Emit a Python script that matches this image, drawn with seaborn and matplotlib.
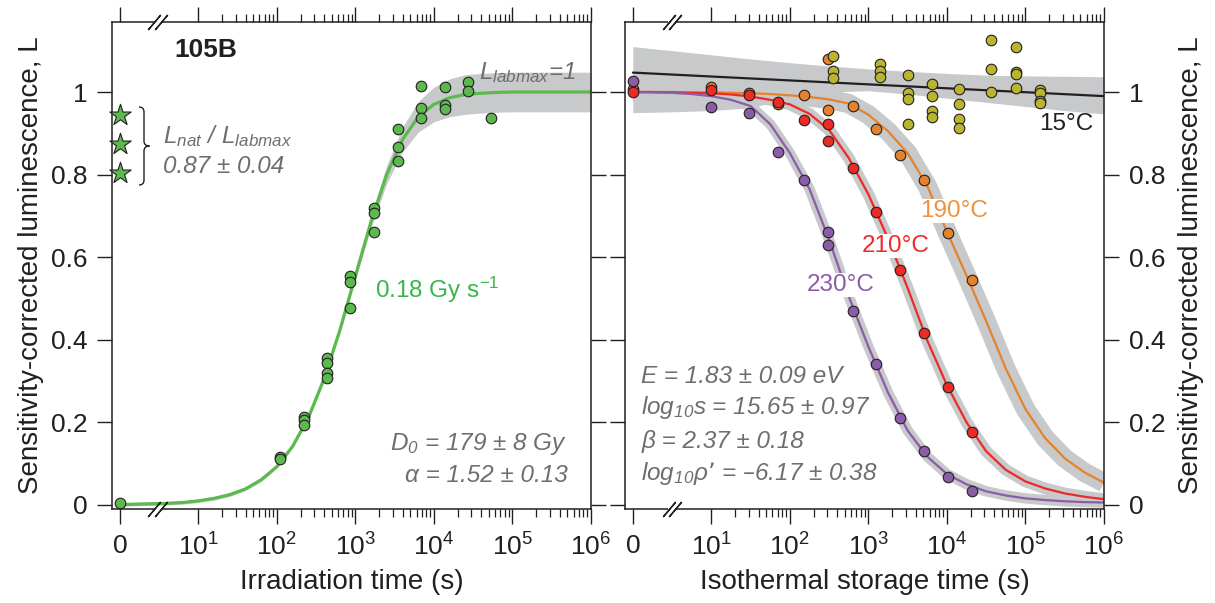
import numpy as np
import matplotlib
matplotlib.use("Agg")
import matplotlib.pyplot as plt
import seaborn as sns
from matplotlib.path import Path
from matplotlib.patches import PathPatch
from matplotlib.ticker import FixedLocator, NullFormatter

# ---------------- data: left panel (irradiation) ----------------
irr_time = [0, 110, 110, 220, 220, 220, 430, 430, 430, 430, 860, 860, 860,
            1720, 1720, 1720, 3450, 3450, 3450, 6900, 6900, 6900,
            13800, 13800, 13800, 27000, 27000, 54000]
irr_L = [0.004, 0.115, 0.111, 0.214, 0.206, 0.193, 0.357, 0.344, 0.319, 0.307,
         0.554, 0.541, 0.476, 0.718, 0.706, 0.661, 0.911, 0.866, 0.832,
         1.015, 0.962, 0.936, 1.012, 0.968, 0.958, 1.024, 1.002, 0.938]
nat_time = [0, 0, 0]
nat_L = [0.944, 0.874, 0.804]

grow_logt = [0.0, 0.2, 0.4, 0.6, 0.8, 1.0, 1.2, 1.4, 1.6, 1.8, 2.0, 2.2, 2.4, 2.6,
             2.8, 3.0, 3.2, 3.4, 3.6, 3.8, 4.0, 4.2, 4.4, 4.6, 4.8, 5.0, 5.2,
             5.4, 5.6, 5.8, 6.0]
grow_L = [0.001, 0.002, 0.003, 0.004, 0.006, 0.010, 0.016, 0.025, 0.039, 0.061,
          0.093, 0.142, 0.211, 0.305, 0.422, 0.555, 0.687, 0.801, 0.885, 0.940,
          0.970, 0.986, 0.994, 0.997, 0.999, 1.000, 1.000, 1.000, 1.000, 1.000,
          1.000]
grow_halfwidth = [0.004, 0.004, 0.004, 0.004, 0.004, 0.004, 0.004, 0.004, 0.004,
                  0.004, 0.004, 0.004, 0.004, 0.004, 0.006, 0.010, 0.015, 0.022,
                  0.030, 0.037, 0.042, 0.046, 0.048, 0.048, 0.048, 0.048, 0.048,
                  0.048, 0.048, 0.048, 0.048]

# ---------------- data: right panel (isothermal storage) ----------------
p230_time = [0, 10, 30, 70, 150, 310, 310, 630, 1260, 2540, 5100, 10200, 20600]
p230_L = [1.026, 0.964, 0.950, 0.854, 0.786, 0.660, 0.630, 0.470, 0.341, 0.210,
          0.130, 0.067, 0.033]
p210_time = [0, 10, 30, 70, 150, 310, 310, 630, 1260, 2540, 5100, 10200, 20600]
p210_L = [1.001, 1.006, 0.992, 0.977, 0.931, 0.923, 0.881, 0.816, 0.709, 0.569,
          0.416, 0.286, 0.177]
p190_time = [0, 10, 30, 70, 150, 310, 310, 630, 1260, 2540, 5100, 10200, 20600]
p190_L = [1.008, 1.013, 0.998, 0.970, 0.993, 0.956, 1.081, 0.965, 0.910, 0.847,
          0.787, 0.658, 0.545]
p15_time = [350, 350, 350, 1400, 1400, 1400, 3200, 3200, 3200, 3200,
            6400, 6400, 6400, 6400, 14400, 14400, 14400, 14400,
            36000, 36000, 36000, 75000, 75000, 75000, 75000,
            155000, 155000, 155000, 155000]
p15_L = [1.087, 1.051, 1.035, 1.069, 1.052, 1.037, 1.040, 0.997, 0.982, 0.922,
         1.019, 0.990, 0.954, 0.939, 1.007, 0.971, 0.935, 0.912,
         1.126, 1.055, 1.001, 1.109, 1.049, 1.043, 1.009,
         1.006, 0.997, 0.978, 0.973]

decay_logt = [0.0, 0.25, 0.5, 0.75, 1.0, 1.25, 1.5, 1.75, 2.0, 2.25, 2.5, 2.75,
              3.0, 3.25, 3.5, 3.75, 4.0, 4.25, 4.5, 4.75, 5.0, 5.25, 5.5, 5.75, 6.0]
fit230 = [1.000, 0.999, 0.998, 0.995, 0.990, 0.981, 0.966, 0.922, 0.852, 0.765,
          0.642, 0.505, 0.383, 0.272, 0.180, 0.117, 0.075, 0.050, 0.033, 0.023,
          0.016, 0.012, 0.009, 0.007, 0.006]
fit210 = [1.000, 1.000, 0.999, 0.998, 0.997, 0.994, 0.989, 0.981, 0.970, 0.947,
          0.908, 0.840, 0.752, 0.645, 0.525, 0.398, 0.290, 0.200, 0.130, 0.085,
          0.057, 0.040, 0.028, 0.020, 0.014]
fit190 = [1.000, 1.000, 1.000, 0.999, 0.999, 0.998, 0.997, 0.995, 0.992, 0.988,
          0.982, 0.972, 0.945, 0.905, 0.852, 0.772, 0.662, 0.555, 0.445, 0.330,
          0.232, 0.162, 0.113, 0.079, 0.054]

fit15_logt = [0, 1, 2, 3, 4, 5, 6]
fit15 = [1.047, 1.0375, 1.028, 1.0185, 1.009, 0.9995, 0.990]
band15_logt = [0.0, 0.5, 1.0, 1.5, 2.0, 2.5, 3.0, 3.5, 4.0, 4.5, 5.0, 5.5, 6.0]
band15_hi = [1.110, 1.100, 1.090, 1.080, 1.071, 1.063, 1.056, 1.050, 1.045,
             1.041, 1.039, 1.038, 1.037]
band15_lo = [0.950, 0.952, 0.955, 0.962, 0.985, 1.000, 1.003, 0.995, 0.985,
             0.975, 0.965, 0.955, 0.947]

xtick_labels = ["0", "$10^{1}$", "$10^{2}$", "$10^{3}$", "$10^{4}$", "$10^{5}$", "$10^{6}$"]
ytick_values = [0, 0.2, 0.4, 0.6, 0.8, 1.0]
ytick_labels = ["0", "0.2", "0.4", "0.6", "0.8", "1"]

# ---------------- style ----------------
sns.set_theme(style="ticks")
plt.rcParams["font.family"] = ["Liberation Sans", "DejaVu Sans"]
plt.rcParams["mathtext.default"] = "regular"
plt.rcParams["axes.linewidth"] = 1.1

INK = "#231f20"
GRAYTXT = "#6d6e71"
BAND = "#c8c9cb"
GREEN = "#5bb94e"
GREEN_TXT = "#39b54a"
ORANGE = "#e4832b"
ORANGE_TXT = "#f0923b"
RED = "#ee2a27"
PURPLE = "#8b5ca7"
OLIVE = "#bab52f"


def pos(t):
    t = np.asarray(t, dtype=float)
    return np.where(t == 0, 1.0, t)


def lg(v):
    return 10.0 ** np.asarray(v, dtype=float)


fig = plt.figure(figsize=(12.15, 6.03), dpi=100)
W, H = 1215.0, 603.0
ax1 = fig.add_axes([112 / W, 94 / H, 479 / W, 487 / H])
ax2 = fig.add_axes([625 / W, 94 / H, 479 / W, 487 / H])

minor = [m * 10.0 ** k for k in range(1, 6) for m in range(2, 10)]
for ax in (ax1, ax2):
    ax.set_xscale("log")
    ax.set_xlim(10 ** -0.1, 1e6)
    ax.set_ylim(-0.0097, 1.1695)
    ax.set_xticks([1, 10, 100, 1e3, 1e4, 1e5, 1e6])
    ax.set_xticklabels(xtick_labels)
    ax.xaxis.set_minor_locator(FixedLocator(minor))
    ax.xaxis.set_minor_formatter(NullFormatter())
    ax.set_yticks(ytick_values)
    ax.set_yticklabels(ytick_labels)
    ax.tick_params(which="major", direction="out", length=10.8, width=1.0,
                   color=INK, labelsize=19, labelcolor=INK, pad=7)
    ax.tick_params(which="minor", direction="out", length=5.5, width=0.9, color=INK)
    ax.tick_params(axis="x", which="both", top=True, bottom=True, labeltop=False)
    ax.tick_params(axis="y", which="both", left=True, right=True)
    for s in ax.spines.values():
        s.set_color(INK)
        s.set_linewidth(1.1)
    ax.set_xlabel(ax.get_xlabel())

ax1.tick_params(axis="y", labelleft=True, labelright=False)
ax2.tick_params(axis="y", labelleft=False, labelright=True)

# ---------------- left panel ----------------
gx = lg(grow_logt)
gL = np.asarray(grow_L)
ghw = np.asarray(grow_halfwidth)
ax1.fill_between(gx, gL - ghw, gL + ghw, color=BAND, lw=0, zorder=1)
sns.lineplot(x=gx, y=gL, ax=ax1, color=GREEN, lw=2.3, estimator=None, sort=False, zorder=2)
sns.scatterplot(x=pos(irr_time), y=irr_L, ax=ax1, color=GREEN, edgecolor=INK,
                linewidth=0.8, s=58, zorder=4, clip_on=False)
sns.scatterplot(x=pos(nat_time), y=nat_L, ax=ax1, marker="*", color=GREEN,
                edgecolor=INK, linewidth=0.8, s=260, zorder=5, clip_on=False)

ax1.set_xlabel("Irradiation time (s)", fontsize=20, color=INK, labelpad=6)
ax1.set_ylabel("Sensitivity-corrected luminescence, L", fontsize=20, color=INK, labelpad=5)

tk = dict(fontsize=17.5, color=GRAYTXT, style="italic")
ax1.text(lg(0.70), 1.084, "105B", fontsize=19, fontweight="bold", color=INK, va="baseline", ha="left")
ax1.text(lg(4.58), 1.031, "$L_{labmax}$=1", ha="left", va="baseline", **tk)
ax1.text(lg(0.547), 0.877, "$L_{nat}$ / $L_{labmax}$", ha="left", va="baseline", **tk)
ax1.text(lg(0.547), 0.804, "0.87 ± 0.04", ha="left", va="baseline", **tk)
ax1.text(lg(3.244), 0.501, "0.18 Gy s$^{-1}$", ha="left", va="baseline",
         fontsize=17.5, color=GREEN_TXT)
ax1.text(lg(5.70), 0.133, "D$_{0}$ = 179 ± 8 Gy", ha="right", va="baseline", **tk)
ax1.text(lg(5.70), 0.056, "α = 1.52 ± 0.13", ha="right", va="baseline", **tk)

# curly brace (decoration, in axes fraction)
def fx(px):
    return (px - 112) / 479.0


def fy(py):
    return (509 - py) / 487.0


bv = [(139, 107), (144, 107), (144, 112), (144, 141), (144, 146), (149.5, 146),
      (144, 146), (144, 151), (144, 180), (144, 185), (139, 185)]
bc = [Path.MOVETO, Path.CURVE3, Path.CURVE3, Path.LINETO, Path.CURVE3, Path.CURVE3,
      Path.CURVE3, Path.CURVE3, Path.LINETO, Path.CURVE3, Path.CURVE3]
brace = Path([(fx(a), fy(b)) for a, b in bv], bc)
ax1.add_patch(PathPatch(brace, transform=ax1.transAxes, fill=False, lw=1.0,
                        edgecolor=INK, clip_on=False, zorder=5))

# ---------------- right panel ----------------
dx = lg(decay_logt)
ax2.fill_between(lg(band15_logt), band15_lo, band15_hi, color=BAND, lw=0, zorder=1)
for fit, w in ((fit230, 7.5), (fit210, 8.5), (fit190, 14)):
    sns.lineplot(x=dx, y=fit, ax=ax2, color=BAND, lw=w, estimator=None, sort=False,
                 zorder=1.2, solid_capstyle="butt")
sns.lineplot(x=lg(fit15_logt), y=fit15, ax=ax2, color=INK, lw=1.6, estimator=None,
             sort=False, zorder=2)
sns.lineplot(x=dx, y=fit190, ax=ax2, color=ORANGE, lw=1.6, estimator=None, sort=False, zorder=2)
sns.lineplot(x=dx, y=fit210, ax=ax2, color=RED, lw=1.6, estimator=None, sort=False, zorder=2)
sns.lineplot(x=dx, y=fit230, ax=ax2, color=PURPLE, lw=1.6, estimator=None, sort=False, zorder=2)

for t, L, c in ((p190_time, p190_L, ORANGE), (p230_time, p230_L, PURPLE),
                (p210_time, p210_L, RED), (p15_time, p15_L, OLIVE)):
    sns.scatterplot(x=pos(t), y=L, ax=ax2, color=c, edgecolor=INK, linewidth=0.8,
                    s=58, zorder=4, clip_on=False)

ax2.set_xlabel("Isothermal storage time (s)", fontsize=20, color=INK, labelpad=6)
ax2.yaxis.set_label_position("right")
ax2.set_ylabel("Sensitivity-corrected luminescence, L", fontsize=20, color=INK,
               labelpad=9, rotation=90)

wb = dict(boxstyle="square,pad=0.05", facecolor="white", edgecolor="none")
ax2.text(lg(5.17), 0.908, "15°C", fontsize=17.5, color=INK, ha="left", va="baseline")
ax2.text(lg(3.656), 0.697, "190°C", fontsize=17.5, color=ORANGE_TXT, ha="left",
         va="baseline", bbox=wb, zorder=3)
ax2.text(lg(2.917), 0.613, "210°C", fontsize=17.5, color=RED, ha="left",
         va="baseline", bbox=wb, zorder=3)
ax2.text(lg(2.217), 0.518, "230°C", fontsize=17.5, color=PURPLE, ha="left",
         va="baseline", bbox=wb, zorder=3)
ax2.text(lg(0.11), 0.295, "E = 1.83 ± 0.09 eV", ha="left", va="baseline", **tk)
ax2.text(lg(0.11), 0.221, "log$_{10}$s = 15.65 ± 0.97", ha="left", va="baseline", **tk)
ax2.text(lg(0.11), 0.139, "β = 2.37 ± 0.18", ha="left", va="baseline", **tk)
ax2.text(lg(0.11), 0.061, "log$_{10}$ρ’ = –6.17 ± 0.38", ha="left", va="baseline", **tk)


# axis break marks
def add_break(ax, logpos):
    tr = ax.get_xaxis_transform()
    for yy in (0, 1):
        ax.plot([10 ** logpos], [yy], transform=tr, marker=(2, 2, 90), ms=6,
                mew=4, color="white", ls="none", clip_on=False, zorder=6)
        ax.plot([10 ** (logpos - 0.04), 10 ** (logpos + 0.04)], [yy, yy], transform=tr,
                marker=(2, 2, -40), ms=14, mew=1.0, color=INK, ls="none",
                clip_on=False, zorder=7)


add_break(ax1, 0.48)
add_break(ax2, 0.50)

fig.savefig("out.png", dpi=100, facecolor="white")
